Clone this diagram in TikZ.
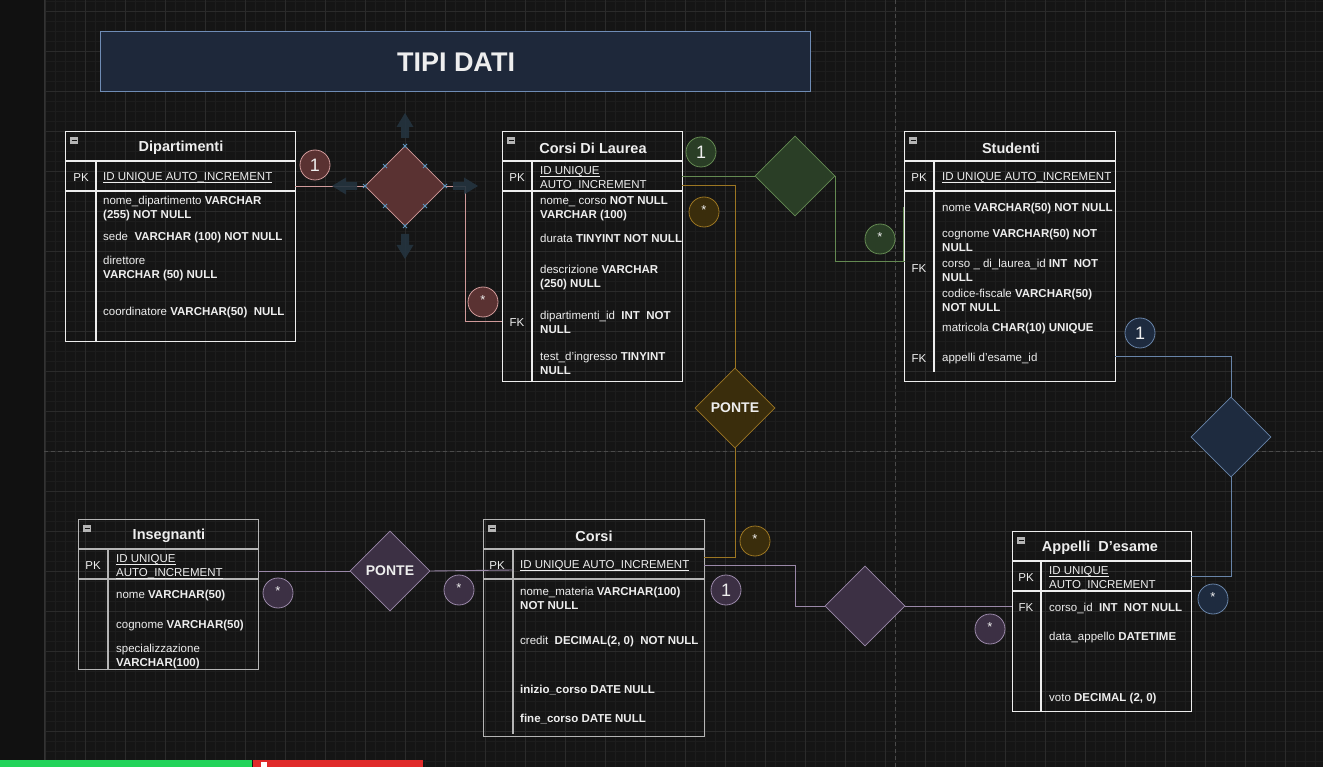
\documentclass[tikz,border=0pt]{standalone}
\usepackage{fontspec}
\setmainfont{Liberation Sans}
\usetikzlibrary{shapes.geometric}
\definecolor{bg}{HTML}{151515}
\definecolor{strip}{HTML}{111111}
\definecolor{gminor}{HTML}{1D1D1D}
\definecolor{gmajor}{HTML}{2B2B2B}
\definecolor{gedge}{HTML}{333333}
\definecolor{gdash}{HTML}{4A4A4A}
\definecolor{barg}{HTML}{22D35A}
\definecolor{barr}{HTML}{E02A2A}
\definecolor{txt}{HTML}{EEEEEE}
\definecolor{tgray}{HTML}{B5B5B5}
\definecolor{rfill}{HTML}{5A3232}
\definecolor{rline}{HTML}{D09A9A}
\definecolor{gfill}{HTML}{2A3E26}
\definecolor{gline}{HTML}{648A52}
\definecolor{ofill}{HTML}{3A2D0C}
\definecolor{oline}{HTML}{9C7622}
\definecolor{bfill}{HTML}{1E2B3F}
\definecolor{bline}{HTML}{6884A8}
\definecolor{pfill}{HTML}{3C3044}
\definecolor{pline}{HTML}{9A88A8}
\definecolor{titlefill}{HTML}{1E283A}
\definecolor{titleline}{HTML}{6F8CB5}
\definecolor{hover}{HTML}{24333F}
\definecolor{xmark}{HTML}{5E95BE}
\newcommand\ul[1]{\setbox0\hbox{#1}\rlap{\vrule height -1.3pt depth 2.2pt width \wd0}\box0}
\tikzset{
  fld/.style={anchor=west, inner sep=0pt, text=txt, align=left, yshift=-2pt,
    font=\fontsize{11.5}{14}\selectfont},
  key/.style={inner sep=0pt, text=txt, yshift=-2pt, font=\fontsize{11.5}{14}\selectfont},
  ttl/.style={inner sep=0pt, text=txt, yshift=-2pt, font=\fontsize{14.5}{17}\selectfont\bfseries},
  tbox/.style={draw=#1, line width=1.2pt, anchor=north west, inner sep=0pt},
  tline/.style={draw=#1, line width=1.1pt},
  rel/.style n args={2}{diamond, aspect=1, minimum width=80pt, minimum height=80pt,
    inner sep=0pt, fill=#1, draw=#2, line width=0.8pt, text=txt,
    font=\fontsize{14}{16}\selectfont\bfseries},
  card/.style n args={2}{circle, minimum size=30pt, inner sep=0pt, fill=#1, draw=#2,
    line width=0.8pt, text=txt},
  one/.style={font=\fontsize{18}{18}\selectfont},
  star/.style={font=\fontsize{13}{13}\selectfont},
  conn/.style={draw=#1, line width=0.9pt},
  harrow/.style={fill=hover, draw=none, opacity=0.9},
}
\newcommand\fld[4]{\node[fld] (#1) at (#2,#3) {#4};}
\newcommand\minusicon[2]{%
  \fill[tgray] (#1,#2) rectangle ++(8,7);
  \draw[bg, line width=1pt] (#1+1.5,#2+3.5) -- ++(5,0);}
\newcommand\xm[2]{\draw[xmark, line width=0.9pt] (#1-2,#2-2) -- (#1+2,#2+2) (#1-2,#2+2) -- (#1+2,#2-2);}
\begin{document}
\begin{tikzpicture}[x=1pt,y=-1pt]
\useasboundingbox (0,0) rectangle (1323,767);
% background and grid
\fill[bg] (0,0) rectangle (1323,767);
\foreach \x in {45,55,...,1323} \draw[gminor, line width=0.6pt] (\x,0) -- (\x,767);
\foreach \y in {1,11,...,767} \draw[gminor, line width=0.6pt] (44,\y) -- (1323,\y);
\foreach \x in {45,85,...,1323} \draw[gmajor, line width=0.8pt] (\x,0) -- (\x,767);
\foreach \y in {11,51,...,767} \draw[gmajor, line width=0.8pt] (44,\y) -- (1323,\y);
\fill[strip] (0,0) rectangle (44,767);
\draw[gedge, line width=1pt] (44,0) -- (44,767);
% page break lines
\draw[gdash, dash pattern=on 4pt off 3pt, line width=0.8pt] (895,0) -- (895,767);
\draw[gdash, dash pattern=on 4pt off 3pt, line width=0.8pt] (44,451) -- (1323,451);
% bottom bar
\fill[barg] (0,760) rectangle (252,767);
\fill[barr] (253,760) rectangle (423,767);
\fill[white] (261,762) rectangle (267,767);

% title
\node[draw=titleline, fill=titlefill, line width=0.8pt, minimum width=710pt, minimum height=60pt,
  anchor=north west, inner sep=0pt] (title) at (100,31) {};
\node[text=txt, font=\fontsize{27}{27}\selectfont\bfseries, inner sep=0pt] (titletxt) at (456,62) {TIPI DATI};

%================ Dipartimenti
\node[tbox=txt, minimum width=230pt, minimum height=210pt] (dep) at (65,131) {};
\draw[tline=txt] (65,161) -- (295,161) (65,191) -- (295,191) (96,161) -- (96,341);
\minusicon{70}{137}
\node[ttl] (depT) at (181,146) {Dipartimenti};
\node[key] (depPK) at (81,176) {PK};
\fld{dep1}{103}{176}{\ul{ID UNIQUE AUTO\_INCREMENT}}
\fld{dep2}{103}{207}{nome\_dipartimento \textbf{VARCHAR}\\\textbf{(255) NOT NULL}}
\fld{dep3}{103}{236}{sede\ \ \textbf{VARCHAR (100) NOT NULL}}
\fld{dep4}{103}{267}{direttore\\\textbf{VARCHAR (50) NULL}}
\fld{dep5}{103}{311}{coordinatore \textbf{VARCHAR(50)\ \ NULL}}

%================ Corsi Di Laurea
\node[tbox=txt, minimum width=180pt, minimum height=250pt] (cdl) at (502,131) {};
\draw[tline=txt] (502,161) -- (682,161) (502,191) -- (682,191) (532,161) -- (532,381);
\minusicon{507}{137}
\node[ttl] (cdlT) at (593,146) {Corsi Di Laurea};
\node[key] (cdlPK) at (517,176) {PK};
\fld{cdl1}{540}{177}{\ul{ID UNIQUE}\\\ul{AUTO\_INCREMENT}}
\fld{cdl2}{540}{207}{nome\_ corso \textbf{NOT NULL}\\\textbf{VARCHAR (100)}}
\fld{cdl3}{540}{236}{durata \textbf{TINYINT NOT NULL}}
\fld{cdl4}{540}{276}{descrizione \textbf{VARCHAR}\\\textbf{(250) NULL}}
\node[key] (cdlFK) at (517,321) {FK};
\fld{cdl5}{540}{320}{dipartimenti\_id\ \ \textbf{INT\ \ NOT}\\\textbf{NULL}}
\fld{cdl6}{540}{361}{test\_d'ingresso \textbf{TINYINT}\\\textbf{NULL}}

%================ Studenti
\node[tbox=txt, minimum width=211pt, minimum height=250pt] (stu) at (904,131) {};
\draw[tline=txt] (904,161) -- (1115,161) (904,191) -- (1115,191) (934,161) -- (934,372);
\minusicon{909}{137}
\node[ttl] (stuT) at (1011,146) {Studenti};
\node[key] (stuPK) at (919,176) {PK};
\fld{stu1}{942}{176}{\ul{ID UNIQUE AUTO\_INCREMENT}}
\fld{stu2}{942}{207}{nome \textbf{VARCHAR(50) NOT NULL}}
\fld{stu3}{942}{238}{cognome \textbf{VARCHAR(50) NOT}\\\textbf{NULL}}
\node[key] (stuFK1) at (919,267) {FK};
\fld{stu4}{942}{268}{corso \_ di\_laurea\_id \textbf{INT\ \ NOT}\\\textbf{NULL}}
\fld{stu5}{942}{298}{codice-fiscale \textbf{VARCHAR(50)}\\\textbf{NOT NULL}}
\fld{stu6}{942}{327}{matricola \textbf{CHAR(10) UNIQUE}}
\node[key] (stuFK2) at (919,357) {FK};
\fld{stu7}{942}{357}{appelli d'esame\_id}

%================ Insegnanti
\node[tbox=tgray, minimum width=180pt, minimum height=150pt] (ins) at (78,519) {};
\draw[tline=tgray] (78,549) -- (258,549) (78,579) -- (258,579) (108,549) -- (108,669);
\minusicon{83}{525}
\node[ttl] (insT) at (169,534) {Insegnanti};
\node[key] (insPK) at (93,564) {PK};
\fld{ins1}{116}{565}{\ul{ID UNIQUE}\\\ul{AUTO\_INCREMENT}}
\fld{ins2}{116}{594}{nome \textbf{VARCHAR(50)}}
\fld{ins3}{116}{624}{cognome \textbf{VARCHAR(50)}}
\fld{ins4}{116}{655}{specializzazione\\\textbf{VARCHAR(100)}}

%================ Corsi
\node[tbox=tgray, minimum width=221pt, minimum height=217pt] (cor) at (483,519) {};
\draw[tline=tgray] (483,549) -- (704,549) (483,579) -- (704,579) (513,549) -- (513,734);
\minusicon{488}{525}
\node[ttl] (corT) at (594,534) {Corsi};
\node[key] (corPK) at (497,564) {PK};
\fld{cor1}{520}{564}{\ul{ID UNIQUE AUTO\_INCREMENT}}
\fld{cor2}{520}{596}{nome\_materia \textbf{VARCHAR(100)}\\\textbf{NOT NULL}}
\fld{cor3}{520}{640}{credit\ \ \textbf{DECIMAL(2, 0)\ \ NOT NULL}}
\fld{cor4}{520}{688}{\textbf{inizio\_corso DATE NULL}}
\fld{cor5}{520}{717}{\textbf{fine\_corso DATE NULL}}

%================ Appelli D'esame
\node[tbox=txt, minimum width=179pt, minimum height=180pt] (app) at (1012,531) {};
\draw[tline=txt] (1012,561) -- (1191,561) (1012,591) -- (1191,591) (1041,561) -- (1041,711);
\minusicon{1017}{537}
\node[ttl] (appT) at (1100,546) {Appelli\ \ D'esame};
\node[key] (appPK) at (1026,576) {PK};
\fld{app1}{1049}{577}{\ul{ID UNIQUE}\\\ul{AUTO\_INCREMENT}}
\node[key] (appFK) at (1026,606) {FK};
\fld{app2}{1049}{606}{corso\_id\ \ \textbf{INT\ \ NOT NULL}}
\fld{app3}{1049}{636}{data\_appello \textbf{DATETIME}}
\fld{app4}{1049}{697}{voto \textbf{DECIMAL (2, 0)}}

%================ relations
\coordinate (depR) at (295,186);
\coordinate (cdlFKin) at (502,321);
\coordinate (cdlR1) at (682,176);
\coordinate (cdlR2) at (682,185);
\coordinate (stuL) at (905,261);
\coordinate (stuLtop) at (903,207);
\coordinate (stuLbot) at (903,261);
\coordinate (stuR) at (1115,356);
\coordinate (corRtop) at (704,557);
\coordinate (corR) at (704,565);
\coordinate (corPKin) at (513,570);
\coordinate (insR) at (258,571);
\coordinate (appR) at (1191,576);
\coordinate (appL) at (1012,606);

% red: Dipartimenti - Corsi Di Laurea
\node[rel={rfill}{rline}] (rd) at (405,186) {};
\draw[conn=rline] (depR) -- (rd.west);
\draw[conn=rline] (rd.east) -- ++(20,0) |- (cdlFKin);
\fill[harrow] (401,138) -- (401,127) -- (396.5,127) -- (405,113) -- (413.5,127) -- (409,127) -- (409,138) -- cycle;
\fill[harrow] (401,234) -- (401,245) -- (396.5,245) -- (405,259) -- (413.5,245) -- (409,245) -- (409,234) -- cycle;
\fill[harrow] (357,182) -- (346,182) -- (346,177.5) -- (332,186) -- (346,194.5) -- (346,190) -- (357,190) -- cycle;
\fill[harrow] (453,182) -- (464,182) -- (464,177.5) -- (478,186) -- (464,194.5) -- (464,190) -- (453,190) -- cycle;
\xm{405}{146}\xm{365}{186}\xm{445}{186}\xm{405}{226}
\xm{385}{166}\xm{425}{166}\xm{385}{206}\xm{425}{206}
\node[card={rfill}{rline}, one] (r1) at (315,165) {1};
\node[card={rfill}{rline}, star] (r2) at (483,302) {\raisebox{3pt}{*}};

% green: Corsi Di Laurea - Studenti
\node[rel={gfill}{gline}] (gd) at (795,176) {};
\draw[conn=gline] (cdlR1) -- (gd.west);
\draw[conn=gline] (gd.east) |- (stuL);
\draw[conn=gline] (stuLtop) -- (stuLbot);
\node[card={gfill}{gline}, one] (g1) at (701,152) {1};
\node[card={gfill}{gline}, star] (g2) at (880,239) {\raisebox{3pt}{*}};

% ochre: Corsi Di Laurea - Corsi (PONTE)
\node[rel={ofill}{oline}] (od) at (735,408) {PONTE};
\draw[conn=oline] (cdlR2) -| (od.north);
\draw[conn=oline] (od.south) |- (corRtop);
\node[card={ofill}{oline}, star] (o1) at (704,212) {\raisebox{3pt}{*}};
\node[card={ofill}{oline}, star] (o2) at (755,541) {\raisebox{3pt}{*}};

% blue: Studenti - Appelli
\node[rel={bfill}{bline}] (bd) at (1231,437) {};
\draw[conn=bline] (stuR) -| (bd.north);
\draw[conn=bline] (bd.south) |- (appR);
\node[card={bfill}{bline}, one] (b1) at (1140,333) {1};
\node[card={bfill}{bline}, star] (b2) at (1213,599) {\raisebox{3pt}{*}};

% purple: Insegnanti - Corsi (PONTE)
\node[rel={pfill}{pline}] (pd1) at (390,571) {PONTE};
\draw[conn=pline] (insR) -- (pd1.west);
\draw[conn=pline] (pd1.east) -- (corPKin);
\node[card={pfill}{pline}, star] (p1) at (278,593) {\raisebox{3pt}{*}};
\node[card={pfill}{pline}, star] (p2) at (459,590) {\raisebox{3pt}{*}};

% purple: Corsi - Appelli
\node[rel={pfill}{pline}] (pd2) at (865,606) {};
\draw[conn=pline] (corR) -- ++(91,0) |- (pd2.west);
\draw[conn=pline] (pd2.east) -- (appL);
\node[card={pfill}{pline}, one] (p3) at (726,590) {1};
\node[card={pfill}{pline}, star] (p4) at (990,629) {\raisebox{3pt}{*}};
\end{tikzpicture}
\end{document}
